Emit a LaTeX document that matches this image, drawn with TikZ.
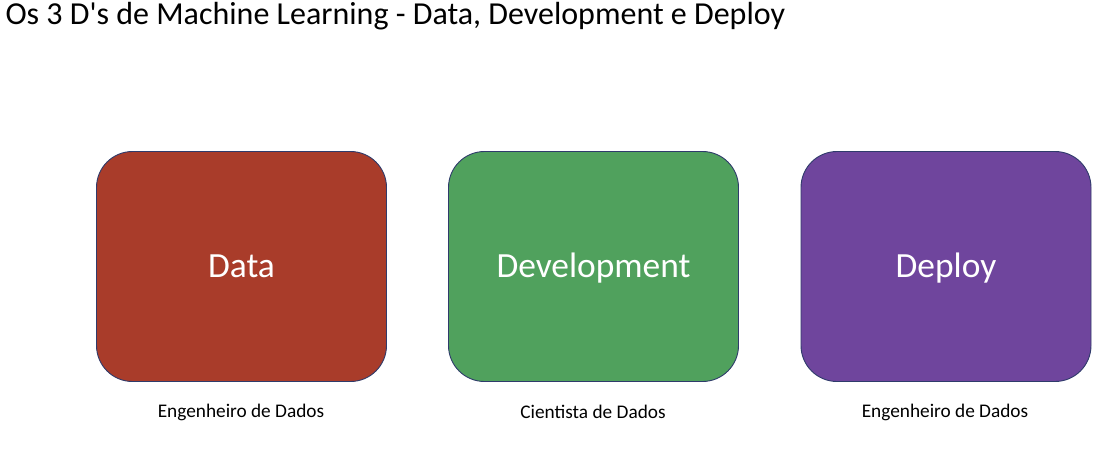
\documentclass[tikz,border=0pt]{standalone}
\usepackage{fontspec}
\setmainfont{Carlito}
\definecolor{dataRed}{HTML}{A93C2A}
\definecolor{devGreen}{HTML}{50A15D}
\definecolor{depPurple}{HTML}{6F459D}
\definecolor{edgeBlue}{HTML}{2F3B6B}
\begin{document}
\begin{tikzpicture}[x=1pt,y=-1pt,
  stage/.style={draw=edgeBlue, line width=0.9pt, rounded corners=36pt,
    minimum width=290pt, minimum height=230pt, inner sep=0pt,
    text height=22pt, text depth=0pt,
    text=white, font=\fontsize{35.4}{40}\selectfont},
  role/.style={font=\fontsize{19.3}{23}\selectfont, text=black},
  heading/.style={font=\fontsize{32}{36}\selectfont, anchor=west, text=black}]
  \useasboundingbox (0,0) rectangle (1108,460);
  \node[heading] (title) at (2,16) {Os 3 D\textquotesingle s de Machine Learning - Data, Development e Deploy};
  \node[stage, fill=dataRed] (data) at (241.5,266.5) {Data};
  \node[stage, fill=devGreen] (dev) at (593.5,266.5) {Development};
  \node[stage, fill=depPurple] (deploy) at (946,266.5) {Deploy};
  \node[role] (r1) at (241,412) {Engenheiro de Dados};
  \node[role] (r2) at (593,412) {Cientista de Dados};
  \node[role] (r3) at (945,412) {Engenheiro de Dados};
\end{tikzpicture}
\end{document}
